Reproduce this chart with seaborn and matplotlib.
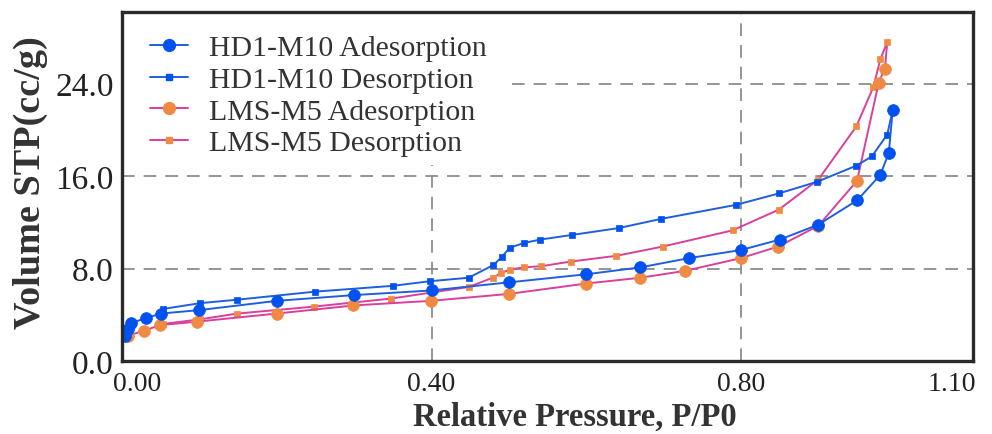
import matplotlib
matplotlib.use("Agg")
import matplotlib.pyplot as plt
import matplotlib.transforms as mtransforms
import pandas as pd
import seaborn as sns
from matplotlib.lines import Line2D
from matplotlib.patches import Rectangle

# Relative pressure (P/P0) and adsorbed volume (cc/g) for each branch
hd_ads_p = [0.004, 0.008, 0.012, 0.031, 0.050, 0.100, 0.200, 0.300, 0.400, 0.500,
            0.600, 0.670, 0.733, 0.800, 0.850, 0.900, 0.950, 0.980, 0.991, 0.996]
hd_ads_v = [2.2, 2.8, 3.3, 3.7, 4.1, 4.4, 5.2, 5.7, 6.1, 6.8,
            7.5, 8.1, 8.9, 9.6, 10.5, 11.8, 13.9, 16.1, 18.0, 21.7]
hd_des_p = [0.989, 0.969, 0.949, 0.898, 0.849, 0.793, 0.697, 0.642, 0.581, 0.540,
            0.519, 0.501, 0.491, 0.480, 0.448, 0.398, 0.350, 0.250, 0.149, 0.101, 0.053]
hd_des_v = [19.6, 17.7, 16.9, 15.5, 14.5, 13.5, 12.3, 11.5, 10.9, 10.5,
            10.2, 9.8, 9.0, 8.3, 7.2, 6.9, 6.5, 6.0, 5.3, 5.0, 4.5]

lms_ads_p = [0.008, 0.028, 0.049, 0.097, 0.200, 0.299, 0.399, 0.500, 0.600, 0.670,
             0.728, 0.800, 0.848, 0.900, 0.950, 0.978, 0.986]
lms_ads_v = [2.2, 2.6, 3.1, 3.4, 4.1, 4.8, 5.2, 5.8, 6.7, 7.2,
             7.8, 8.9, 9.9, 11.7, 15.6, 24.1, 25.3]
lms_des_p = [0.989, 0.980, 0.971, 0.949, 0.900, 0.849, 0.789, 0.699, 0.639, 0.580,
             0.542, 0.519, 0.501, 0.490, 0.479, 0.448, 0.348, 0.248, 0.149, 0.101, 0.053]
lms_des_v = [27.6, 26.1, 23.7, 20.3, 15.7, 13.1, 11.3, 9.9, 9.1, 8.6,
             8.2, 8.1, 7.9, 7.6, 7.2, 6.4, 5.4, 4.7, 4.1, 3.6, 3.2]

labels = ["HD1-M10 Adesorption", "HD1-M10 Desorption",
          "LMS-M5 Adesorption", "LMS-M5 Desorption"]
x_ticks = [0.0, 0.4, 0.8, 1.1]
x_ticklabels = ["0.00", "0.40", "0.80", "1.10"]
y_ticks = [0, 8, 16, 24]
y_ticklabels = ["0.0", "8.0", "16.0", "24.0"]

sns.set_style("white")
plt.rcParams["font.family"] = ["Liberation Serif", "DejaVu Serif"]

BLUE_LINE = "#1f5fdc"
BLUE_MARK = "#0052f0"
PINK_LINE = "#d8409c"
ORANGE = "#f08a42"

fig, ax = plt.subplots(figsize=(9.92, 4.35), dpi=100)
fig.subplots_adjust(left=0.123, right=0.981, bottom=0.168, top=0.970)


def branch(p, v):
    return pd.DataFrame({"p": p, "v": v})


def draw(df, line_c, mark_c, marker, ms, z):
    sns.lineplot(data=df, x="p", y="v", ax=ax, sort=False, estimator=None,
                 color=line_c, lw=1.4, marker=marker, markersize=ms,
                 markerfacecolor=mark_c, markeredgecolor=mark_c,
                 markeredgewidth=0.5, zorder=z)


# desorption branches start where adsorption ends (closing the hysteresis loop)
draw(branch([lms_ads_p[-1]] + lms_des_p, [lms_ads_v[-1]] + lms_des_v),
     PINK_LINE, ORANGE, "s", 5.0, 3)
draw(branch(lms_ads_p, lms_ads_v), PINK_LINE, ORANGE, "o", 8.5, 4)
draw(branch([hd_ads_p[-1]] + hd_des_p, [hd_ads_v[-1]] + hd_des_v),
     BLUE_LINE, BLUE_MARK, "s", 5.0, 5)
draw(branch(hd_ads_p, hd_ads_v), BLUE_LINE, BLUE_MARK, "o", 8.5, 6)

ax.set_xlim(0, 1.1)
ax.set_ylim(0, 30.2)
ax.set_xticks(x_ticks)
ax.set_xticklabels(x_ticklabels, fontsize=20)
ax.set_yticks(y_ticks)
ax.set_yticklabels(y_ticklabels, fontsize=24)
ax.tick_params(direction="in", length=6, width=1.4, color="#333333",
               labelcolor="#222222")
ax.tick_params(axis="x", pad=7)
ax.tick_params(axis="y", pad=6)

# end tick labels sit inward from the axis corners
xl = ax.get_xticklabels()
xl[0].set_transform(xl[0].get_transform() +
                    mtransforms.ScaledTranslation(15 / 100, 0, fig.dpi_scale_trans))
xl[-1].set_transform(xl[-1].get_transform() +
                     mtransforms.ScaledTranslation(-21 / 100, 0, fig.dpi_scale_trans))

ax.grid(True, linestyle=(0, (7, 5)), color="#8c8c8c", lw=1.3, zorder=1)
ax.set_axisbelow(True)
for s in ax.spines.values():
    s.set_linewidth(2.4)
    s.set_color("#2a2a2a")
    s.set_zorder(20)

# white backing behind the legend block, hiding the grid there
ax.add_patch(Rectangle((0, 0.563), 0.456, 0.437, transform=ax.transAxes,
                       facecolor="white", edgecolor="none", zorder=1.5))

ax.set_xlabel("Relative Pressure, P/P0", fontsize=23.5, fontweight="bold",
              color="#333333")
ax.xaxis.set_label_coords(0.532, -0.113)
ax.set_ylabel("Volume STP(cc/g)", fontsize=27.5, fontweight="bold",
              color="#333333")
ax.yaxis.set_label_coords(-0.087, 0.515)

handles = [
    Line2D([], [], color=BLUE_LINE, lw=1.4, marker="o", markersize=8.5,
           markerfacecolor=BLUE_MARK, markeredgecolor=BLUE_MARK),
    Line2D([], [], color=BLUE_LINE, lw=1.4, marker="s", markersize=5,
           markerfacecolor=BLUE_MARK, markeredgecolor=BLUE_MARK),
    Line2D([], [], color=PINK_LINE, lw=1.4, marker="o", markersize=8.5,
           markerfacecolor=ORANGE, markeredgecolor=ORANGE),
    Line2D([], [], color=PINK_LINE, lw=1.4, marker="s", markersize=5,
           markerfacecolor=ORANGE, markeredgecolor=ORANGE),
]
leg = ax.legend(handles, labels, loc="upper left", bbox_to_anchor=(0.006, 1.0),
                borderaxespad=0.0, frameon=False, fontsize=21.5,
                handlelength=1.3, handletextpad=0.68, labelspacing=0.16,
                borderpad=0.75)
for t in leg.get_texts():
    t.set_color("#333333")
leg.set_zorder(10)

fig.savefig("out.png", dpi=100)
